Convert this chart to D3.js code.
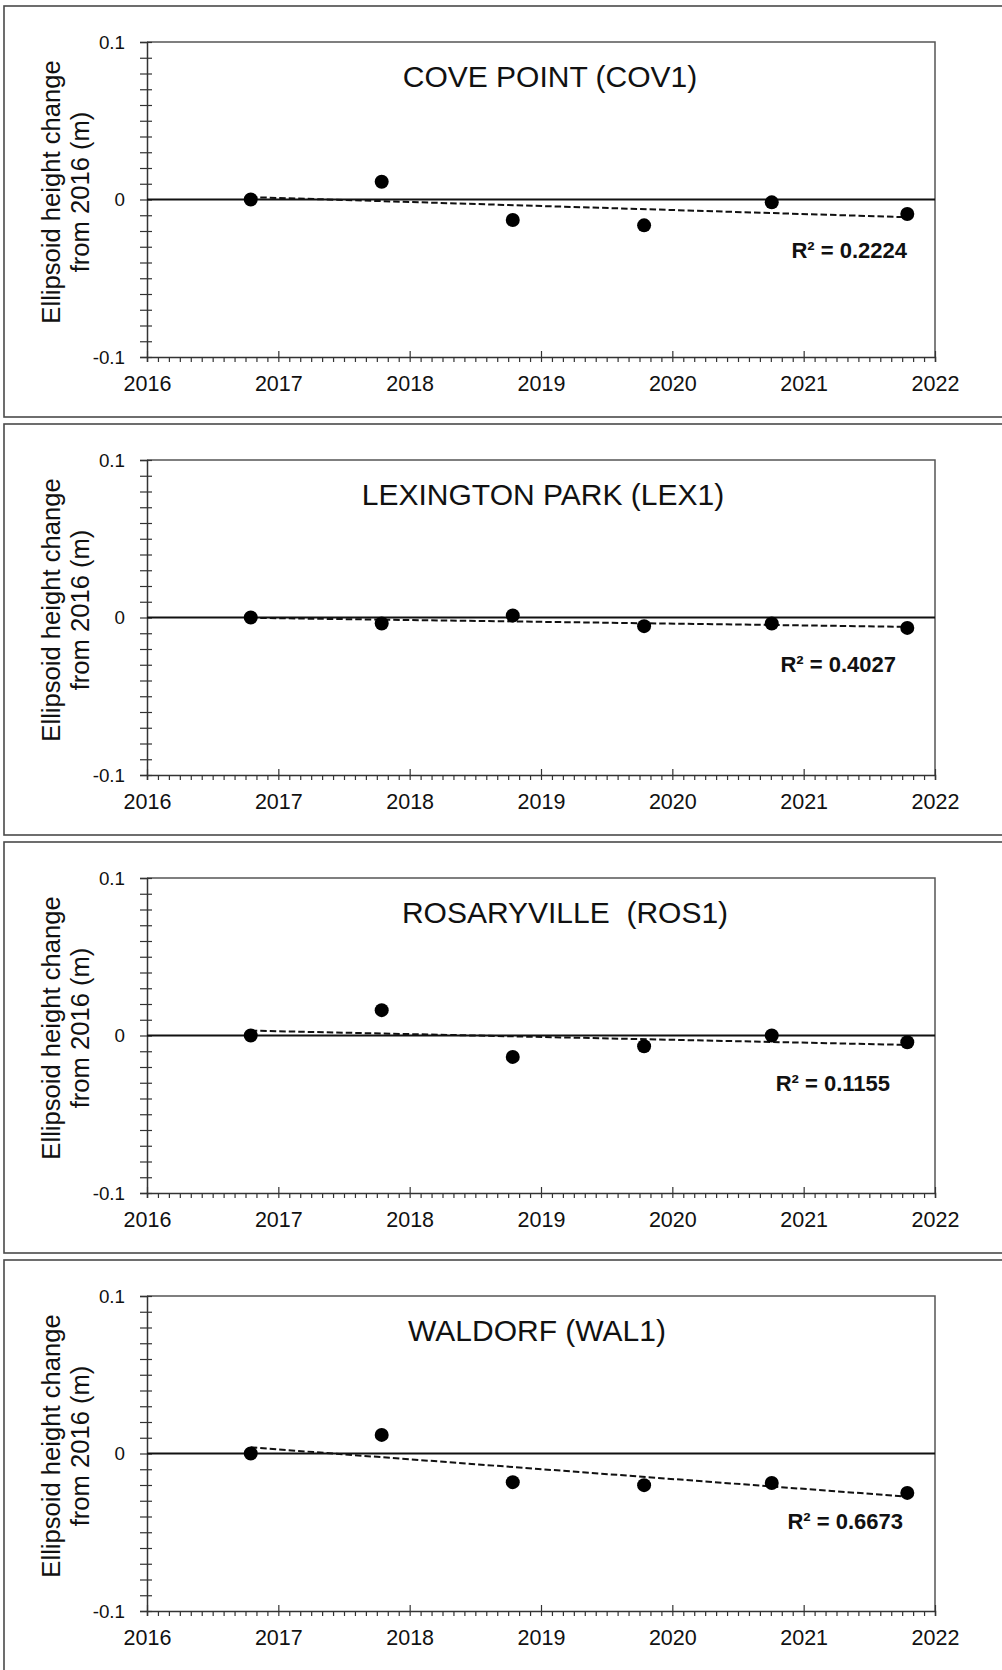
<!DOCTYPE html>
<html>
<head>
<meta charset="utf-8">
<script src="https://cdn.jsdelivr.net/npm/d3@7"></script>
<style>
  body { margin: 0; background: #fff; }
  svg { display: block; font-family: "Liberation Sans", Arial, sans-serif; }
</style>
</head>
<body>
<div class="viz"></div>
<script>
// station names, survey epochs (decimal years) and height change from 2016 (m)
const stations = ["COVE POINT (COV1)", "LEXINGTON PARK (LEX1)", "ROSARYVILLE  (ROS1)", "WALDORF (WAL1)"];
const dates = [2016.79, 2017.787, 2018.785, 2019.785, 2020.757, 2021.789];
const cov1 = [0, 0.0113, -0.013, -0.0164, -0.0018, -0.0092];
const lex1 = [0, -0.0038, 0.0013, -0.0055, -0.0038, -0.0066];
const ros1 = [0, 0.0161, -0.0136, -0.0068, 0, -0.0043];
const wal1 = [0, 0.0118, -0.0182, -0.0201, -0.0187, -0.025];
const rSquared = ["0.2224", "0.4027", "0.1155", "0.6673"];
const yLabelTicks = [-0.1, 0, 0.1];
const yearTicks = [2016, 2017, 2018, 2019, 2020, 2021, 2022];

const series = [cov1, lex1, ros1, wal1];

// layout bits (pixels)
const width = 1002, height = 1670;
const panelStep = 418, panelTop = 6, panelH = 411;
const margin = { left: 147, top: 36 };
const plotW = 788, plotH = 315;
const titleX = [550, 543, 565, 537];
const rLabel = [{ x: 907, y: 216 }, { x: 896, y: 211.5 }, { x: 890, y: 212.5 }, { x: 903, y: 232.5 }];

const svg = d3.select(".viz").append("svg")
  .attr("width", width)
  .attr("height", height);

const x = d3.scaleLinear().domain([2016, 2022]).range([0, plotW]);
const y = d3.scaleLinear().domain([-0.1, 0.1]).range([plotH, 0]);

// monthly minor ticks on x, hundredths on y
const monthTicks = d3.range(0, 6 * 12 + 1).map(m => 2016 + m / 12);
const cmTicks = d3.range(-10, 11).map(k => k / 100);

function fitLine(xs, ys) {
  const mx = d3.mean(xs), my = d3.mean(ys);
  let sxy = 0, sxx = 0;
  xs.forEach((v, i) => { sxy += (v - mx) * (ys[i] - my); sxx += (v - mx) * (v - mx); });
  const slope = sxy / sxx;
  return v => my + slope * (v - mx);
}

stations.forEach((name, i) => {
  const panel = svg.append("g")
    .attr("transform", `translate(0, ${panelTop + i * panelStep})`);

  panel.append("rect")
    .attr("x", 4).attr("y", 0)
    .attr("width", 1010).attr("height", panelH)
    .attr("fill", "none")
    .attr("stroke", "#4a4a4a")
    .attr("stroke-width", 1.6);

  const g = panel.append("g")
    .attr("transform", `translate(${margin.left}, ${margin.top})`);

  // plot frame (top + right)
  g.append("path")
    .attr("d", `M0,0H${plotW}V${plotH}`)
    .attr("fill", "none")
    .attr("stroke", "#555")
    .attr("stroke-width", 1.5);

  // y axis
  const yAxis = g.append("g")
    .call(d3.axisLeft(y)
      .tickValues(cmTicks)
      .tickSize(7)
      .tickFormat(d => {
        const r = Math.round(d * 100) / 100;
        return yLabelTicks.includes(r) ? String(r) : "";
      }));
  yAxis.select(".domain").attr("stroke", "#333").attr("stroke-width", 1.5);
  yAxis.selectAll(".tick line").attr("x1", 5).attr("x2", -7).attr("stroke", "#333").attr("stroke-width", 1.2);
  yAxis.selectAll(".tick text")
    .attr("x", -22)
    .attr("fill", "#111")
    .style("font-size", "18.8px");

  // x axis
  const xAxis = g.append("g")
    .attr("transform", `translate(0, ${plotH})`)
    .call(d3.axisBottom(x)
      .tickValues(monthTicks)
      .tickSize(5)
      .tickFormat(d => {
        const r = Math.round(d * 12) / 12;
        return yearTicks.includes(r) ? String(r) : "";
      }));
  xAxis.select(".domain").attr("stroke", "#333").attr("stroke-width", 1.5);
  xAxis.selectAll(".tick line")
    .attr("stroke", "#333").attr("stroke-width", 1.2)
    .attr("y1", d => yearTicks.includes(Math.round(d * 12) / 12) ? -6 : 0);
  xAxis.selectAll(".tick text")
    .attr("y", 34)
    .attr("dy", 0)
    .attr("fill", "#111")
    .style("font-size", "21.5px");

  // zero line
  g.append("line")
    .attr("x1", 0).attr("x2", plotW)
    .attr("y1", y(0)).attr("y2", y(0))
    .attr("stroke", "#111")
    .attr("stroke-width", 2.2);

  // linear trend
  const vals = series[i];
  const f = fitLine(dates, vals);
  const ends = [dates[0], dates[dates.length - 1]];
  g.append("path")
    .datum(ends)
    .attr("d", d3.line().x(d => x(d)).y(d => y(f(d))))
    .attr("fill", "none")
    .attr("stroke", "#111")
    .attr("stroke-width", 2)
    .attr("stroke-dasharray", "6.5,3");

  g.selectAll("circle")
    .data(vals)
    .enter().append("circle")
    .attr("cx", (d, j) => x(dates[j]))
    .attr("cy", d => y(d))
    .attr("r", 7)
    .attr("fill", "#000");

  // station title
  g.append("text")
    .attr("x", titleX[i] - margin.left)
    .attr("y", 45)
    .attr("text-anchor", "middle")
    .attr("xml:space", "preserve")
    .style("white-space", "pre")
    .style("font-size", "30px")
    .attr("fill", "#111")
    .text(name);

  g.append("text")
    .attr("x", rLabel[i].x - margin.left)
    .attr("y", rLabel[i].y)
    .attr("text-anchor", "end")
    .style("font-size", "22px")
    .style("font-weight", "bold")
    .attr("fill", "#111")
    .text(`R² = ${rSquared[i]}`);

  // y axis title
  const yt = g.append("text")
    .attr("transform", `translate(0, ${plotH / 2 - 7.5}) rotate(-90)`)
    .attr("text-anchor", "middle")
    .style("font-size", "25.6px")
    .attr("fill", "#111");
  yt.append("tspan").attr("x", 0).attr("y", -87).text("Ellipsoid height change");
  yt.append("tspan").attr("x", 0).attr("y", -58).text("from 2016 (m)");
});
</script>
</body>
</html>
